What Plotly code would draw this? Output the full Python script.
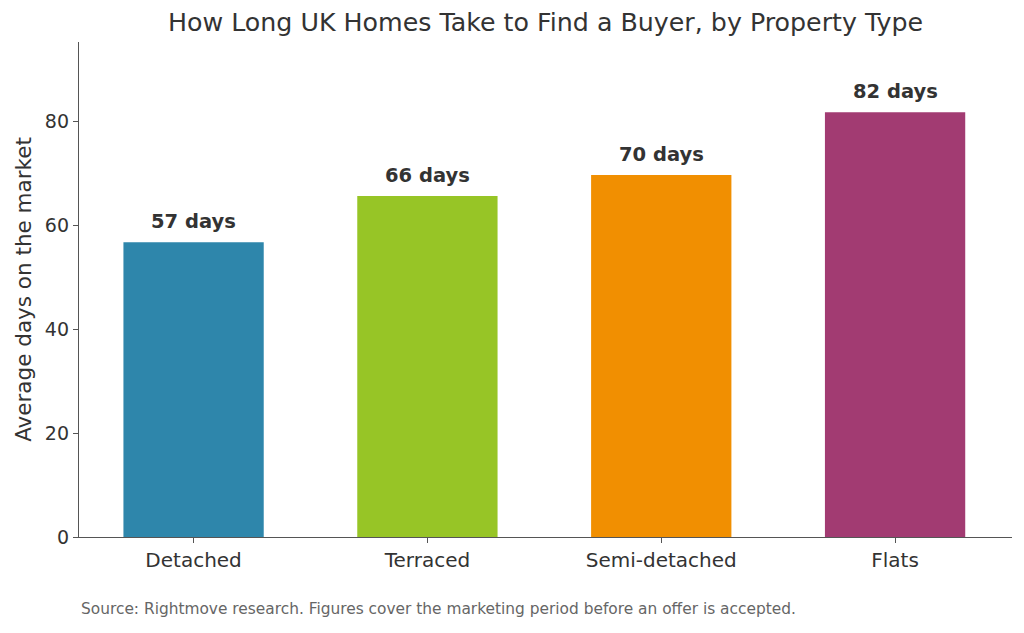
import plotly.graph_objects as go

categories = ["Detached", "Terraced", "Semi-detached", "Flats"]
days = [56.7, 65.6, 69.6, 81.7]
colors = ["#2E86AB", "#97C526", "#F18F01", "#A23B72"]
labels = [f"{round(v)} days" for v in days]

title = "How Long UK Homes Take to Find a Buyer, by Property Type"
ylabel = "Average days on the market"
source = "Source: Rightmove research. Figures cover the marketing period before an offer is accepted."

FONT = "DejaVu Sans"
# page body has an 8px margin; compensate so the plot lands where the reference has it
W, H = 1008, 617
L, T, R, B = 71, 34, 4, 88

fig = go.Figure()
fig.add_trace(go.Bar(
    x=list(range(len(categories))), y=days,
    marker=dict(color=colors, line=dict(width=0)),
    width=0.6, showlegend=False, hoverinfo="skip",
))

for i, (v, t) in enumerate(zip(days, labels)):
    fig.add_annotation(x=i, y=v, text=f"<b>{t}</b>", showarrow=False,
                       yanchor="bottom", yshift=7,
                       font=dict(family=FONT, size=19.5, color="#333333"))

plot_h = H - T - B
fig.add_annotation(x=0, xref="paper", xanchor="left",
                   y=-(601 - (H - B)) / plot_h, yref="paper",
                   yanchor="middle", text=source, showarrow=False,
                   font=dict(family=FONT, size=15.4, color="#666666"))

fig.update_layout(
    width=W, height=H,
    margin=dict(l=L, r=R, t=T, b=B, autoexpand=False),
    paper_bgcolor="white", plot_bgcolor="white",
    font=dict(family=FONT, color="#333333"),
    title=dict(text=title, x=(L + (W - R)) / 2 / W, xref="container", xanchor="center",
               y=1 - 14 / H, yref="container", yanchor="middle",
               font=dict(family=FONT, size=25.3, color="#333333")),
    bargap=0.4,
)
fig.update_xaxes(
    range=[-0.49, 3.5], tickmode="array", tickvals=list(range(len(categories))),
    ticktext=categories, showline=True, linecolor="#555555", linewidth=1.3,
    ticks="outside", ticklen=5, tickcolor="#555555", showgrid=False, zeroline=False,
    tickfont=dict(family=FONT, size=20, color="#333333"),
)
fig.update_yaxes(
    range=[0, 95.2], tickvals=[0, 20, 40, 60, 80], showline=True,
    linecolor="#555555", linewidth=1.3, ticks="outside", ticklen=5,
    tickcolor="#555555", showgrid=False, zeroline=False,
    tickfont=dict(family=FONT, size=19, color="#333333"),
    title=dict(text=ylabel, font=dict(family=FONT, size=21.5, color="#333333"), standoff=7),
)

fig.write_html("out.html")
